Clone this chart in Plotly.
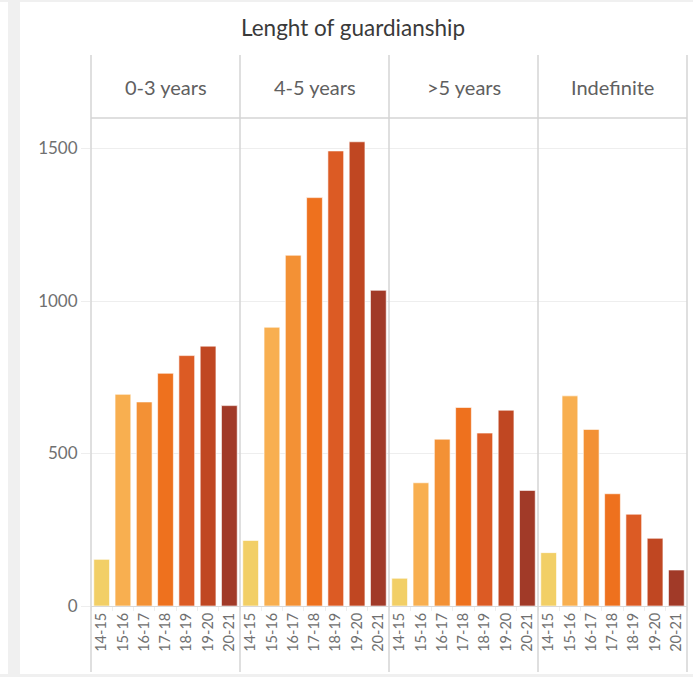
import plotly.graph_objects as go
from plotly.subplots import make_subplots

title = "Lenght of guardianship"
panels = ["0-3 years", "4-5 years", ">5 years", "Indefinite"]
years = ["14-15", "15-16", "16-17", "17-18", "18-19", "19-20", "20-21"]

values_0_3 = [153, 694, 669, 763, 821, 852, 657]
values_4_5 = [215, 914, 1150, 1339, 1492, 1522, 1035]
values_gt5 = [91, 404, 547, 651, 567, 642, 379]
values_indef = [175, 689, 579, 368, 301, 222, 118]
series = [values_0_3, values_4_5, values_gt5, values_indef]

year_colors = ["#F2CF66", "#F8AF50", "#F39135", "#EE711E", "#DC5B24", "#C04722", "#A13A28"]
y_ticks = [0, 500, 1000, 1500]

FONT = "Lato, Open Sans, sans-serif"
W, H = 693, 677
L, R, T, B = 91, 6, 118, 71
pw, ph = W - L - R, H - T - B

def px_y(y):
    return (H - B - y) / ph

def px_x(x):
    return (x - L) / pw

fig = make_subplots(rows=1, cols=4, shared_yaxes=True, horizontal_spacing=0)
for i, vals in enumerate(series):
    fig.add_trace(go.Bar(x=years, y=vals, marker=dict(color=year_colors,
                         line=dict(color="rgba(255,255,255,0.6)", width=1)),
                         showlegend=False, hoverinfo="x+y"), row=1, col=i + 1)
    fig.update_xaxes(row=1, col=i + 1, type="category", tickangle=-90,
                     tickfont=dict(family=FONT, size=14.5, color="#707070"),
                     showgrid=False, showline=True, linecolor="#d9d9d9", linewidth=1,
                     ticks="outside", tickson="boundaries", ticklen=4, tickcolor="#eeeeee",
                     fixedrange=True)

fig.update_yaxes(range=[0, 1600], tickvals=y_ticks, showgrid=True, gridcolor="#eeeeee",
                 gridwidth=1, zeroline=False, showline=False,
                 tickfont=dict(family=FONT, size=17, color="#707070"),
                 ticks="", ticklabelstandoff=0)
fig.update_yaxes(row=1, col=1, ticks="outside", ticklen=9, tickcolor="#eeeeee")

shapes = []
shapes.append(dict(type="rect", xref="paper", yref="paper", x0=px_x(8), x1=px_x(20),
                   y0=px_y(677), y1=px_y(0), fillcolor="#f0f0f0", line=dict(width=0), layer="below"))
shapes.append(dict(type="rect", xref="paper", yref="paper", x0=px_x(0), x1=px_x(693),
                   y0=px_y(2), y1=px_y(0), fillcolor="#f0f0f0", line=dict(width=0), layer="below"))
shapes.append(dict(type="rect", xref="paper", yref="paper", x0=px_x(0), x1=px_x(693),
                   y0=px_y(677), y1=px_y(674), fillcolor="#f0f0f0", line=dict(width=0), layer="below"))
for k in range(5):
    xp = k / 4
    shapes.append(dict(type="line", xref="paper", yref="paper", x0=xp, x1=xp,
                       y0=px_y(672), y1=px_y(55), line=dict(color="#d4d4d4", width=1.5)))
shapes.append(dict(type="line", xref="paper", yref="paper", x0=0, x1=1,
                   y0=1, y1=1, line=dict(color="#d4d4d4", width=1.5)))

annotations = [dict(text=title, xref="paper", yref="paper", x=px_x(353), y=px_y(27),
                    showarrow=False, font=dict(family=FONT, size=22.5, color="#3a3a3a"),
                    xanchor="center", yanchor="middle")]
for k, p in enumerate(panels):
    annotations.append(dict(text=p, xref="paper", yref="paper", x=(k + 0.5) / 4, y=px_y(87),
                            showarrow=False, xanchor="center", yanchor="middle",
                            font=dict(family=FONT, size=20, color="#606060")))

fig.update_layout(width=W, height=H, margin=dict(l=L, r=R, t=T, b=B),
                  paper_bgcolor="white", plot_bgcolor="white", bargap=0.26,
                  shapes=shapes, annotations=annotations)

fig.write_html("out.html", config={"displayModeBar": False},
               post_script="document.body.style.margin='0';")
